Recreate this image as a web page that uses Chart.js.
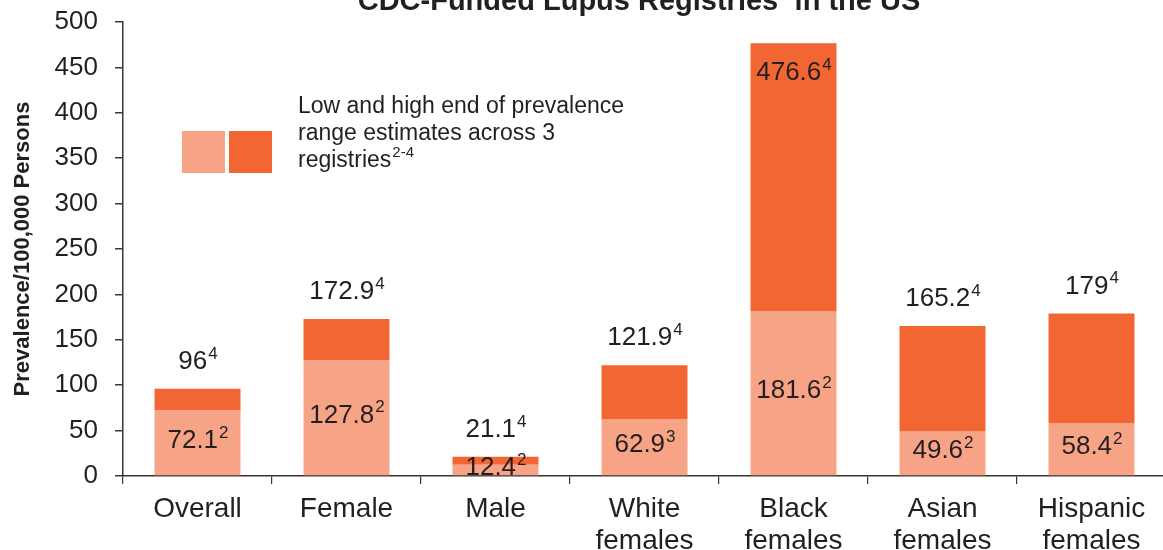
<!DOCTYPE html>
<html lang="en">
<head>
  <meta charset="UTF-8">
  <title>Lupus prevalence, CDC-funded registries</title>
  <script src="https://cdn.jsdelivr.net/npm/chart.js"></script>
  <style>
    html, body { margin: 0; padding: 0; background: #fff; overflow: hidden; }
    #wrap { width: 1166px; height: 550px; }
  </style>
</head>
<body>
<div id="wrap"><canvas id="lupusChart" width="1166" height="550"></canvas></div>

<script>
  const categories = ['Overall', 'Female', 'Male', ['White', 'females'], ['Black', 'females'], ['Asian', 'females'], ['Hispanic', 'females']];
  const lowValues = [72.1, 127.8, 12.4, 62.9, 181.6, 49.6, 58.4];
  const highValues = [96, 172.9, 21.1, 121.9, 476.6, 165.2, 179];
  const lowRefs = ['2', '2', '2', '3', '2', '2', '2'];
  const highRefs = ['4', '4', '4', '4', '4', '4', '4'];
  const yTicks = [0, 50, 100, 150, 200, 250, 300, 350, 400, 450, 500];

  const LIGHT = '#f7a385';
  const DARK = '#f26633';
  const INK = '#231f20';
  const AXIS = '#3b3431';
  const FONT = '"Liberation Sans", Arial, sans-serif';

  // text with a raised reference number after it
  function supText(ctx, main, sup, cx, cy, size, supSize) {
    ctx.font = size + 'px ' + FONT;
    const w1 = ctx.measureText(main).width;
    ctx.font = supSize + 'px ' + FONT;
    const w2 = ctx.measureText(sup).width;
    let x = cx - (w1 + w2) / 2;
    ctx.textAlign = 'left';
    ctx.textBaseline = 'middle';
    ctx.fillStyle = INK;
    ctx.font = size + 'px ' + FONT;
    ctx.fillText(main, x, cy);
    ctx.font = supSize + 'px ' + FONT;
    ctx.fillText(sup, x + w1 + 1, cy - size * 0.3);
  }

  const overlay = {
    id: 'overlay',
    afterDatasetsDraw(chart) {
      const ctx = chart.ctx;
      const area = chart.chartArea;
      const lowMeta = chart.getDatasetMeta(0);
      const topMeta = chart.getDatasetMeta(1);
      ctx.save();

      lowValues.forEach((v, i) => {
        const bar = lowMeta.data[i];
        supText(ctx, String(v), lowRefs[i], bar.x, (bar.y + bar.base) / 2 - 2, 26, 17);
      });

      highValues.forEach((v, i) => {
        const bar = topMeta.data[i];
        let y = bar.y - 27;
        if (bar.y - 45 < area.top) y = bar.y + 30;
        supText(ctx, String(v), highRefs[i], bar.x, y, 26, 17);
      });

      // legend: two swatches and a three line note
      ctx.fillStyle = LIGHT;
      ctx.fillRect(182, 131, 43, 42);
      ctx.fillStyle = DARK;
      ctx.fillRect(229, 131, 43, 42);
      ctx.fillStyle = INK;
      ctx.textAlign = 'left';
      ctx.textBaseline = 'middle';
      ctx.font = '23px ' + FONT;
      ctx.fillText('Low and high end of prevalence', 298, 107);
      ctx.fillText('range estimates across 3', 298, 134);
      ctx.fillText('registries', 298, 161);
      const rw = ctx.measureText('registries').width;
      ctx.font = '15px ' + FONT;
      ctx.fillText('2-4', 298 + rw + 1, 153);

      // title, mostly cut off by the top edge
      ctx.font = 'bold 29px ' + FONT;
      ctx.textBaseline = 'alphabetic';
      const t1 = 'CDC-Funded Lupus Registries';
      const t2 = ' in the US';
      const w1 = ctx.measureText(t1).width;
      const w3 = ctx.measureText(t2).width;
      ctx.font = 'bold 15px ' + FONT;
      const w2 = ctx.measureText('1').width;
      let x = 639 - (w1 + w2 + w3) / 2;
      ctx.font = 'bold 29px ' + FONT;
      ctx.fillText(t1, x, 10);
      ctx.font = 'bold 15px ' + FONT;
      ctx.fillText('1', x + w1 + 1, 0);
      ctx.font = 'bold 29px ' + FONT;
      ctx.fillText(t2, x + w1 + w2, 10);

      ctx.restore();
    }
  };

  new Chart(document.getElementById('lupusChart'), {
    type: 'bar',
    data: {
      labels: categories,
      datasets: [
        { label: 'Low end', data: lowValues, backgroundColor: LIGHT, borderWidth: 0 },
        { label: 'High end', data: highValues.map((h, i) => +(h - lowValues[i]).toFixed(1)), backgroundColor: DARK, borderWidth: 0 }
      ]
    },
    options: {
      responsive: false,
      animation: false,
      layout: { padding: { top: 22, left: 0, right: 0, bottom: 0 } },
      plugins: {
        legend: { display: false },
        tooltip: { enabled: false }
      },
      datasets: { bar: { categoryPercentage: 1, barPercentage: 0.577 } },
      scales: {
        x: {
          stacked: true,
          offset: true,
          afterFit: s => { s.height = 74; },
          grid: { display: true, drawOnChartArea: false, offset: true, tickLength: 8, color: AXIS, lineWidth: 1.2 },
          border: { color: AXIS, width: 1.5 },
          ticks: { color: INK, font: { family: FONT, size: 28, lineHeight: 1.12 }, padding: 10, maxRotation: 0, autoSkip: false }
        },
        y: {
          stacked: true,
          min: 0,
          max: 500,
          afterFit: s => { s.width = 123; s.paddingTop = 0; s.paddingBottom = 0; },
          afterBuildTicks: s => { s.ticks = yTicks.map(v => ({ value: v })); },
          grid: { display: true, drawOnChartArea: false, tickLength: 8, color: AXIS, lineWidth: 1.5 },
          border: { color: AXIS, width: 1.5 },
          ticks: { color: INK, font: { family: FONT, size: 26 }, padding: 17 },
          title: {
            display: true,
            text: 'Prevalence/100,000 Persons',
            color: INK,
            font: { family: FONT, size: 22, weight: 'bold' },
            padding: { top: 10, bottom: 0 }
          }
        }
      }
    },
    plugins: [overlay]
  });
</script>
</body>
</html>
